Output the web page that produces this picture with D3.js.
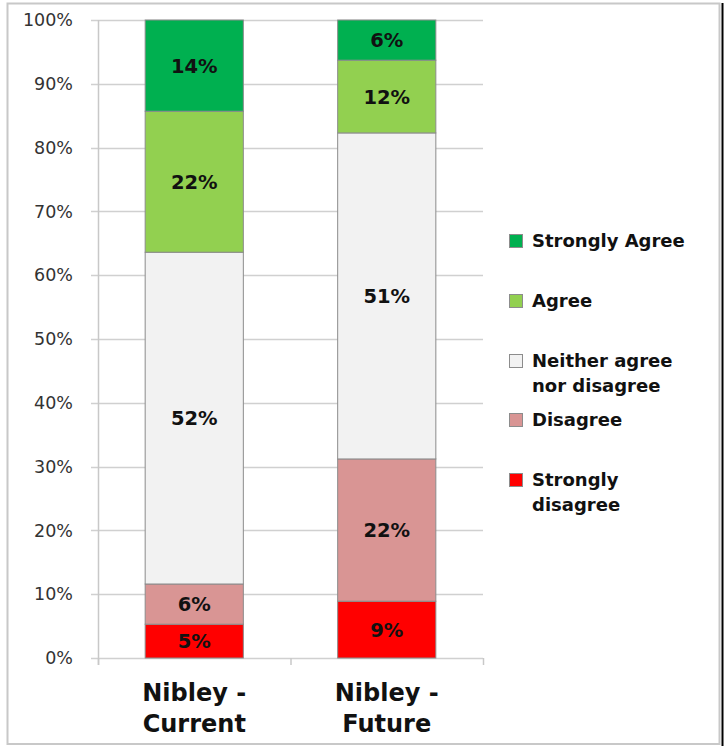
<!DOCTYPE html>
<html><head><meta charset="utf-8">
<script src="https://cdn.jsdelivr.net/npm/d3@7"></script>
<style>
html,body{margin:0;padding:0;background:#fff;}
svg{display:block;font-family:"DejaVu Sans",sans-serif;}
</style></head>
<body><div id="chart"></div>
<script>
const categories = ["Nibley - Current", "Nibley - Future"];
const seriesNames = ["Strongly disagree", "Disagree", "Neither agree nor disagree", "Agree", "Strongly Agree"];
const seriesColors = ["#ff0000", "#d99594", "#f2f2f2", "#92d050", "#00b050"];
const currentValues = [5.3, 6.3, 52.0, 22.1, 14.3];
const futureValues = [8.9, 22.3, 51.1, 11.4, 6.3];
const currentLabels = ["5%", "6%", "52%", "22%", "14%"];
const futureLabels = ["9%", "22%", "51%", "12%", "6%"];
const yTicks = [0, 10, 20, 30, 40, 50, 60, 70, 80, 90, 100];
const legendLines = [["Strongly Agree"], ["Agree"], ["Neither agree", "nor disagree"], ["Disagree"], ["Strongly", "disagree"]];

const W = 724, H = 746;
const svg = d3.select("#chart").append("svg").attr("width", W).attr("height", H);

// outer frame
svg.append("rect").attr("x", 7.5).attr("y", 3.5).attr("width", 712).attr("height", 740.5)
  .attr("fill", "#fff").attr("stroke", "#c8c8c8").attr("stroke-width", 2);
svg.append("line").attr("x1", 722.5).attr("x2", 722.5).attr("y1", 3).attr("y2", 746)
  .attr("stroke", "#000").attr("stroke-width", 2);

const plot = {left: 98, right: 483, top: 20, bottom: 658};
const y = d3.scaleLinear().domain([0, 100]).range([plot.bottom, plot.top]);
const x = d3.scaleBand().domain(categories).range([plot.left, plot.right]).paddingInner(0.49).paddingOuter(0.245);

// gridlines
svg.append("g").selectAll("line").data(yTicks).join("line")
  .attr("x1", plot.left - 7).attr("x2", plot.right)
  .attr("y1", d => Math.round(y(d)) + 0.5).attr("y2", d => Math.round(y(d)) + 0.5)
  .attr("stroke", "#d0d0d0").attr("stroke-width", 1.5);

// y axis
const yAxis = d3.axisLeft(y).tickValues(yTicks).tickFormat(d => d + "%").tickSize(0).tickPadding(25);
const gy = svg.append("g").attr("transform", `translate(${plot.left},0)`).call(yAxis);
gy.select(".domain").remove();
gy.selectAll("text").attr("font-size", 17.5).attr("fill", "#333").attr("font-family", "DejaVu Sans, sans-serif");
svg.append("line").attr("x1", plot.left + 0.5).attr("x2", plot.left + 0.5).attr("y1", plot.top).attr("y2", plot.bottom + 7)
  .attr("stroke", "#c8c8c8").attr("stroke-width", 1.5);

// x axis ticks
const xBounds = [plot.left, (plot.left + plot.right) / 2, plot.right];
svg.append("g").selectAll("line").data(xBounds).join("line")
  .attr("x1", d => d + 0.5).attr("x2", d => d + 0.5).attr("y1", plot.bottom).attr("y2", plot.bottom + 7)
  .attr("stroke", "#c8c8c8").attr("stroke-width", 1.5);

// stacked bars
const rows = categories.map((c, i) => {
  const vals = i === 0 ? currentValues : futureValues;
  const o = {cat: c};
  seriesNames.forEach((s, j) => o[s] = vals[j]);
  return o;
});
const stack = d3.stack().keys(seriesNames)(rows);
const labelsBy = [currentLabels, futureLabels];

stack.forEach((layer, j) => {
  const g = svg.append("g");
  g.selectAll("rect").data(layer).join("rect")
    .attr("x", d => x(d.data.cat))
    .attr("y", d => y(d[1]))
    .attr("width", x.bandwidth())
    .attr("height", d => y(d[0]) - y(d[1]))
    .attr("fill", seriesColors[j])
    .attr("stroke", "#8c8c8c").attr("stroke-width", 1);
  g.selectAll("text").data(layer).join("text")
    .attr("x", d => x(d.data.cat) + x.bandwidth() / 2)
    .attr("y", d => (y(d[0]) + y(d[1])) / 2)
    .attr("dy", "0.36em")
    .attr("text-anchor", "middle")
    .attr("font-size", 19.5).attr("font-weight", "bold").attr("fill", "#111")
    .text((d, i) => labelsBy[i][j]);
});

// category labels
categories.forEach(c => {
  const parts = c.split(" - ");
  const t = svg.append("text").attr("x", x(c) + x.bandwidth() / 2).attr("text-anchor", "middle")
    .attr("font-size", 24).attr("font-weight", "bold").attr("fill", "#111");
  t.append("tspan").attr("x", x(c) + x.bandwidth() / 2).attr("y", 701).text(parts[0] + " -");
  t.append("tspan").attr("x", x(c) + x.bandwidth() / 2).attr("y", 732).text(parts[1]);
});

// legend
const legendY = [241, 301, 361, 420, 480];
const legendOrder = [4, 3, 2, 1, 0];
legendOrder.forEach((si, k) => {
  const g = svg.append("g");
  g.append("rect").attr("x", 509.5).attr("y", legendY[k] - 6.5).attr("width", 13).attr("height", 13)
    .attr("fill", seriesColors[si]).attr("stroke", "#8c8c8c").attr("stroke-width", 1);
  legendLines[k].forEach((ln, li) => {
    g.append("text").attr("x", 532).attr("y", legendY[k] + li * 25).attr("dy", "0.36em")
      .attr("font-size", 18).attr("font-weight", "bold").attr("fill", "#111").text(ln);
  });
});
</script></body></html>
